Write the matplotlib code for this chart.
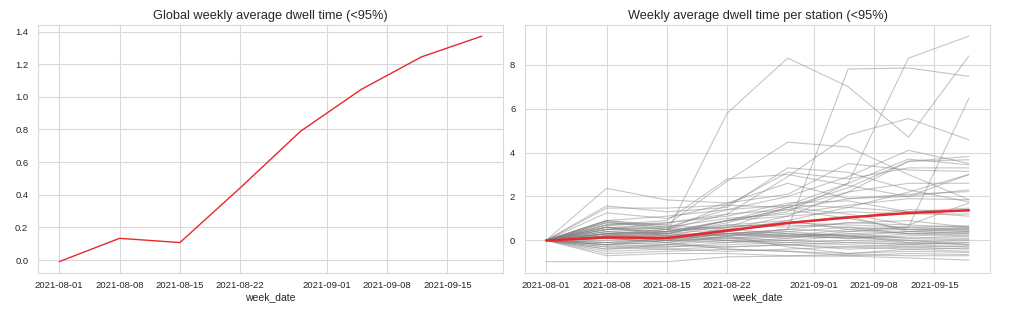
import numpy as np
import pandas as pd
import matplotlib
matplotlib.use("Agg")
import matplotlib.pyplot as plt
import matplotlib.dates as mdates
import seaborn as sns

sns.set_style("whitegrid")
plt.rcParams["font.family"] = ["Liberation Sans", "DejaVu Sans"]

week_dates = pd.to_datetime(["2021-08-01", "2021-08-08", "2021-08-15", "2021-08-22",
                             "2021-08-29", "2021-09-05", "2021-09-12", "2021-09-19"])

# global weekly average (red line)
global_avg = [-0.01, 0.133, 0.107, 0.443, 0.79, 1.045, 1.245, 1.372]

# per station weekly averages (grey lines)
stations = [
    [0, 0.3, 0.35, 5.8, 8.3, 7.0, 4.7, 8.4],
    [0, 0.5, 0.4, 0.9, 1.6, 2.6, 8.3, 9.3],
    [0, 0.2, 0.1, 0.3, 0.5, 7.8, 7.85, 7.47],
    [0, 0.6, 0.5, 1.2, 2.9, 4.8, 5.55, 4.58],
    [0, -0.2, 0.1, 0.3, 0.2, 0.5, 0.6, 6.48],
    [0, 0.8, 0.7, 2.7, 4.47, 4.25, 3.0, 1.85],
    [0, 1.57, 1.3, 1.5, 3.3, 3.1, 2.3, 1.75],
    [0, 0.9, 0.6, 1.4, 2.0, 2.9, 4.1, 3.5],
    [0, 0.4, 0.3, 0.8, 1.5, 2.4, 3.6, 3.82],
    [0, 0.2, 0.0, 0.5, 1.1, 2.2, 3.6, 3.67],
    [0, 0.6, 0.4, 0.9, 1.3, 2.6, 3.7, 3.44],
    [0, 0.3, 0.5, 1.6, 3.1, 2.8, 3.3, 3.3],
    [0, 1.25, 1.0, 1.7, 2.1, 3.5, 3.2, 3.14],
    [0, 0.7, 0.9, 2.8, 3.0, 2.5, 2.0, 3.0],
    [0, 0.1, -0.1, 0.4, 0.9, 1.5, 2.2, 3.0],
    [0, 1.47, 1.47, 1.6, 1.5, 2.2, 2.6, 2.6],
    [0, 2.37, 1.84, 1.7, 2.6, 1.9, 2.0, 2.3],
    [0, 0.5, 0.8, 1.2, 1.4, 1.9, 2.1, 2.22],
    [0, 0.8, 0.6, 1.0, 1.2, 1.6, 1.9, 1.85],
    [0, 0.3, 0.2, 0.7, 0.6, 0.8, 0.7, 1.7],
    [0, 0.9, 1.1, 1.4, 1.6, 1.5, 1.3, 1.47],
    [0, 0.2, 0.4, 0.6, 0.8, 1.0, 1.4, 1.3],
    [0, 0.6, 0.3, 0.9, 1.1, 1.3, 1.2, 1.2],
    [0, 0.7, 0.8, 1.1, 1.7, 1.8, 1.3, 1.1],
    [0, 0.85, 0.5, 0.6, 0.8, 0.7, 0.6, 0.67],
    [0, 0.4, 0.3, 0.2, 0.4, 0.6, 0.5, 0.6],
    [0, 0.1, 0.2, 0.3, 0.5, 0.4, 0.5, 0.5],
    [0, -0.1, 0.0, 0.1, 0.2, 0.3, 0.4, 0.45],
    [0, 0.3, 0.1, 0.4, 0.2, 0.1, 0.3, 0.4],
    [0, 0.5, 0.4, 0.7, 0.9, 0.5, 0.3, 0.35],
    [0, -0.3, -0.2, 0.0, 0.2, 0.1, 0.2, 0.3],
    [0, 0.2, 0.0, -0.1, 0.1, 0.3, 0.1, 0.2],
    [0, -0.2, -0.3, -0.1, 0.0, 0.2, 0.1, 0.1],
    [0, 0.1, -0.1, 0.2, 0.3, 0.1, 0.0, 0.05],
    [0, -0.4, -0.3, -0.2, -0.1, 0.0, -0.1, 0.0],
    [0, 0.6, 0.2, 0.1, 0.0, -0.1, -0.2, -0.1],
    [0, -0.1, -0.2, -0.3, -0.2, -0.1, -0.15, -0.1],
    [0, 0.0, 0.1, 0.0, -0.1, -0.2, -0.3, -0.25],
    [0, -0.5, -0.4, -0.3, -0.2, -0.3, -0.2, -0.3],
    [0, -0.3, -0.4, -0.5, -0.4, -0.3, -0.4, -0.35],
    [0, 0.4, 0.2, 0.0, -0.2, -0.4, -0.3, -0.4],
    [0, -0.6, -0.5, -0.4, -0.5, -0.6, -0.5, -0.55],
    [0, -0.7, -0.6, -0.6, -0.7, -0.65, -0.7, -0.7],
    [-0.97, -0.97, -0.97, -0.75, -0.72, -0.72, -0.8, -0.9],
    [0, -0.2, -0.1, -0.4, -0.5, -0.7, -0.6, -0.65],
    [0, 0.3, 0.4, 0.2, 0.5, 0.8, 0.9, 0.6],
    [0, -0.1, 0.1, 0.5, 0.7, 0.6, 0.3, 0.2],
    [0, 0.2, 0.3, 0.9, 1.4, 1.0, 0.5, 0.4],
    [0, 0.7, 0.5, 0.3, 0.4, 0.2, -0.1, -0.2],
    [0, -0.4, -0.2, 0.2, -0.3, -0.6, -0.4, -0.5],
    [0, 0.1, 0.3, 0.1, 0.3, 0.2, 0.4, 0.55],
    [0, 0.5, 0.6, 0.4, 0.8, 1.1, 0.4, 0.3],
    [0, -0.2, 0.0, 0.3, 0.1, 0.4, 0.6, 0.5],
    [0, 0.3, 0.0, 0.6, 1.5, 1.2, 0.7, 0.6],
    [0, 0.9, 0.7, 0.5, 0.3, 0.2, 0.0, -0.2],
]

fig = plt.figure(figsize=(10.17, 3.23), dpi=100)
ax1 = fig.add_axes([0.0374, 0.155, 0.4572, 0.768])
ax2 = fig.add_axes([0.5162, 0.155, 0.4573, 0.768])

ax1.plot(week_dates, global_avg, color="#e8282c", lw=1.0)
ax1.set_title("Global weekly average dwell time (<95%)", fontsize=9.2, color=".15", pad=4)

for s in stations:
    ax2.plot(week_dates, s, color="grey", alpha=0.45, lw=0.8)
ax2.plot(week_dates, global_avg, color="#e8282c", lw=1.8)
ax2.set_title("Weekly average dwell time per station (<95%)", fontsize=9.2, color=".15", pad=4)
ax2.set_yticks([0, 2, 4, 6, 8])

for ax in (ax1, ax2):
    ax.xaxis.set_major_locator(mdates.DayLocator(bymonthday=[1, 8, 15, 22]))
    ax.xaxis.set_major_formatter(mdates.DateFormatter("%Y-%m-%d"))
    ax.set_xlabel("week_date", fontsize=7.5, color=".15", labelpad=1)
    ax.tick_params(axis="x", labelsize=6.8, colors=".15", length=0, pad=6)
    ax.tick_params(axis="y", labelsize=6.8, colors=".15", length=0, pad=7)
    ax.grid(color=".85", lw=0.8)
    for sp in ax.spines.values():
        sp.set_color(".85")

fig.savefig("out.png", dpi=100)
